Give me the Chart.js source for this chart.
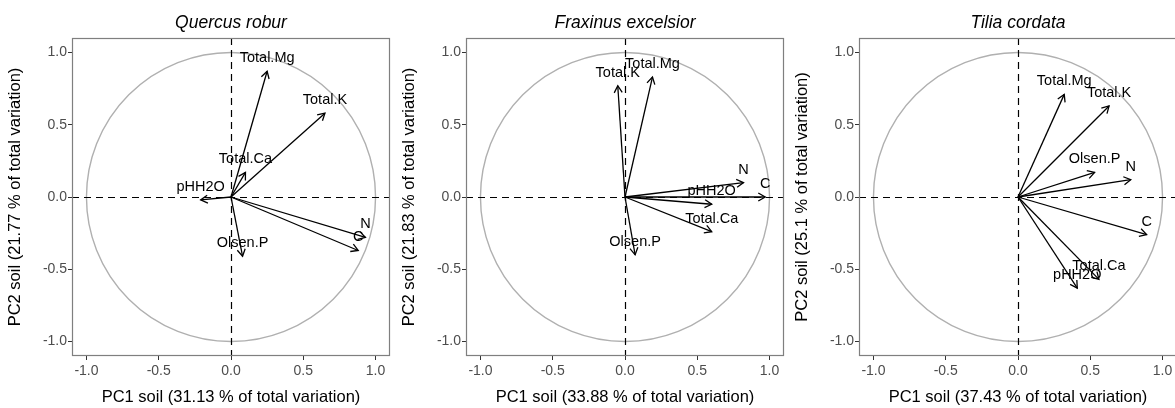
<!DOCTYPE html>
<html>
<head>
<meta charset="utf-8">
<script src="https://cdn.jsdelivr.net/npm/chart.js@4/dist/chart.umd.min.js"></script>
<style>
  html, body { margin: 0; padding: 0; background: #fff; overflow: hidden; }
  body { width: 1175px; height: 408px; position: relative; }
  canvas { position: absolute; top: 0; }
</style>
</head>
<body>
<canvas id="quercus" width="394" height="408" style="left:0px"></canvas>
<canvas id="fraxinus" width="394" height="408" style="left:394px"></canvas>
<canvas id="tilia" width="394" height="408" style="left:787px"></canvas>
<script>
// Ejes y marcas
const tickValues = [-1.0, -0.5, 0.0, 0.5, 1.0];
const axisMin = -1.1;
const axisMax = 1.1;

// Quercus robur
const quercusVars = ['Total.Mg', 'Total.K', 'Total.Ca', 'pHH2O', 'N', 'C', 'Olsen.P'];
const quercusPC1 = [0.25, 0.65, 0.10, -0.21, 0.93, 0.88, 0.08];
const quercusPC2 = [0.87, 0.58, 0.17, -0.02, -0.28, -0.37, -0.41];

// Fraxinus excelsior
const fraxinusVars = ['Total.K', 'Total.Mg', 'N', 'C', 'pHH2O', 'Total.Ca', 'Olsen.P'];
const fraxinusPC1 = [-0.05, 0.19, 0.82, 0.97, 0.60, 0.60, 0.07];
const fraxinusPC2 = [0.77, 0.83, 0.10, 0.00, -0.05, -0.24, -0.40];

// Tilia cordata
const tiliaVars = ['Total.Mg', 'Total.K', 'Olsen.P', 'N', 'C', 'Total.Ca', 'pHH2O'];
const tiliaPC1 = [0.32, 0.63, 0.53, 0.78, 0.89, 0.56, 0.41];
const tiliaPC2 = [0.71, 0.63, 0.17, 0.12, -0.26, -0.57, -0.63];

const fontFamily = '"Liberation Sans", Arial, Helvetica, sans-serif';

// Círculo de correlación, líneas de referencia, puntas de flecha y etiquetas
const pcaPlugin = {
  id: 'pcaCircle',
  beforeDatasetsDraw(chart) {
    const { ctx, chartArea: a, scales: { x, y } } = chart;
    const cx = x.getPixelForValue(0);
    const cy = y.getPixelForValue(0);
    const r = x.getPixelForValue(1) - cx;
    ctx.save();
    ctx.beginPath();
    ctx.rect(a.left, a.top, a.width, a.height);
    ctx.clip();
    ctx.strokeStyle = '#b0b0b0';
    ctx.lineWidth = 1.4;
    ctx.beginPath();
    ctx.arc(cx, cy, r, 0, 2 * Math.PI);
    ctx.stroke();
    const sx = Math.round(cx) + 0.5, sy = Math.round(cy) + 0.5;
    ctx.strokeStyle = '#000';
    ctx.lineWidth = 1.2;
    ctx.setLineDash([7, 5]);
    ctx.beginPath();
    ctx.moveTo(a.left, sy);
    ctx.lineTo(a.right, sy);
    ctx.moveTo(sx, a.top);
    ctx.lineTo(sx, a.bottom);
    ctx.stroke();
    ctx.restore();
  },
  afterDatasetsDraw(chart) {
    const { ctx, chartArea: a } = chart;
    ctx.save();
    ctx.strokeStyle = '#000';
    ctx.lineWidth = 1.3;
    chart.data.datasets.forEach((ds, i) => {
      const pts = chart.getDatasetMeta(i).data;
      const p0 = pts[0], p1 = pts[1];
      const ang = Math.atan2(p1.y - p0.y, p1.x - p0.x);
      const len = 8, spread = Math.PI / 6;
      ctx.beginPath();
      ctx.moveTo(p1.x - len * Math.cos(ang - spread), p1.y - len * Math.sin(ang - spread));
      ctx.lineTo(p1.x, p1.y);
      ctx.lineTo(p1.x - len * Math.cos(ang + spread), p1.y - len * Math.sin(ang + spread));
      ctx.stroke();
    });
    ctx.fillStyle = '#000';
    ctx.font = '14.5px ' + fontFamily;
    ctx.textAlign = 'center';
    ctx.textBaseline = 'middle';
    chart.data.datasets.forEach((ds, i) => {
      const p1 = chart.getDatasetMeta(i).data[1];
      ctx.fillText(ds.label, p1.x, p1.y - 13);
    });
    // borde del panel
    ctx.strokeStyle = '#7f7f7f';
    ctx.lineWidth = 1.2;
    ctx.strokeRect(a.left + 0.5, a.top + 0.5, a.width - 1, a.height - 1);
    ctx.restore();
  }
};

function crearPanel(id, titulo, tituloX, tituloY, nombres, pc1, pc2) {
  const tickFont = { family: fontFamily, size: 14 };
  const titleFont = { family: fontFamily, size: 16.5 };
  const fixTicks = s => { s.ticks = tickValues.map(v => ({ value: v })); };
  new Chart(document.getElementById(id), {
    type: 'scatter',
    data: {
      datasets: nombres.map((n, i) => ({
        label: n,
        data: [{ x: 0, y: 0 }, { x: pc1[i], y: pc2[i] }],
        showLine: true,
        borderColor: '#000',
        borderWidth: 1.3,
        pointRadius: 0,
        clip: false
      }))
    },
    options: {
      responsive: false,
      animation: false,
      devicePixelRatio: 1,
      layout: { padding: { left: 0, right: 4, top: 0, bottom: 0 } },
      plugins: {
        legend: { display: false },
        tooltip: { enabled: false },
        title: {
          display: true,
          text: titulo,
          fullSize: false,
          color: '#000',
          font: { family: fontFamily, size: 17.5, style: 'italic', weight: 'normal' },
          padding: { top: 13, bottom: 4 }
        }
      },
      scales: {
        x: {
          type: 'linear',
          min: axisMin,
          max: axisMax,
          afterBuildTicks: fixTicks,
          afterFit: s => { s.height = 52; },
          grid: { drawOnChartArea: false, drawTicks: true, tickLength: 4, color: '#333' },
          border: { display: false },
          ticks: { font: tickFont, color: '#4d4d4d', padding: 3, maxRotation: 0, callback: v => v.toFixed(1) },
          title: { display: true, text: tituloX, color: '#000', font: titleFont, padding: { top: 0, bottom: 1 } }
        },
        y: {
          type: 'linear',
          min: axisMin,
          max: axisMax,
          afterBuildTicks: fixTicks,
          afterFit: s => { s.width = 72; },
          grid: { drawOnChartArea: false, drawTicks: true, tickLength: 4, color: '#333' },
          border: { display: false },
          ticks: { font: tickFont, color: '#4d4d4d', padding: 1, callback: v => v.toFixed(1) },
          title: { display: true, text: tituloY, color: '#000', font: titleFont, padding: { top: 6, bottom: 0 } }
        }
      }
    },
    plugins: [pcaPlugin]
  });
}

crearPanel('quercus', 'Quercus robur',
  'PC1 soil (31.13 % of total variation)', 'PC2 soil (21.77 % of total variation)',
  quercusVars, quercusPC1, quercusPC2);
crearPanel('fraxinus', 'Fraxinus excelsior',
  'PC1 soil (33.88 % of total variation)', 'PC2 soil (21.83 % of total variation)',
  fraxinusVars, fraxinusPC1, fraxinusPC2);
crearPanel('tilia', 'Tilia cordata',
  'PC1 soil (37.43 % of total variation)', 'PC2 soil (25.1 % of total variation)',
  tiliaVars, tiliaPC1, tiliaPC2);
</script>
</body>
</html>
